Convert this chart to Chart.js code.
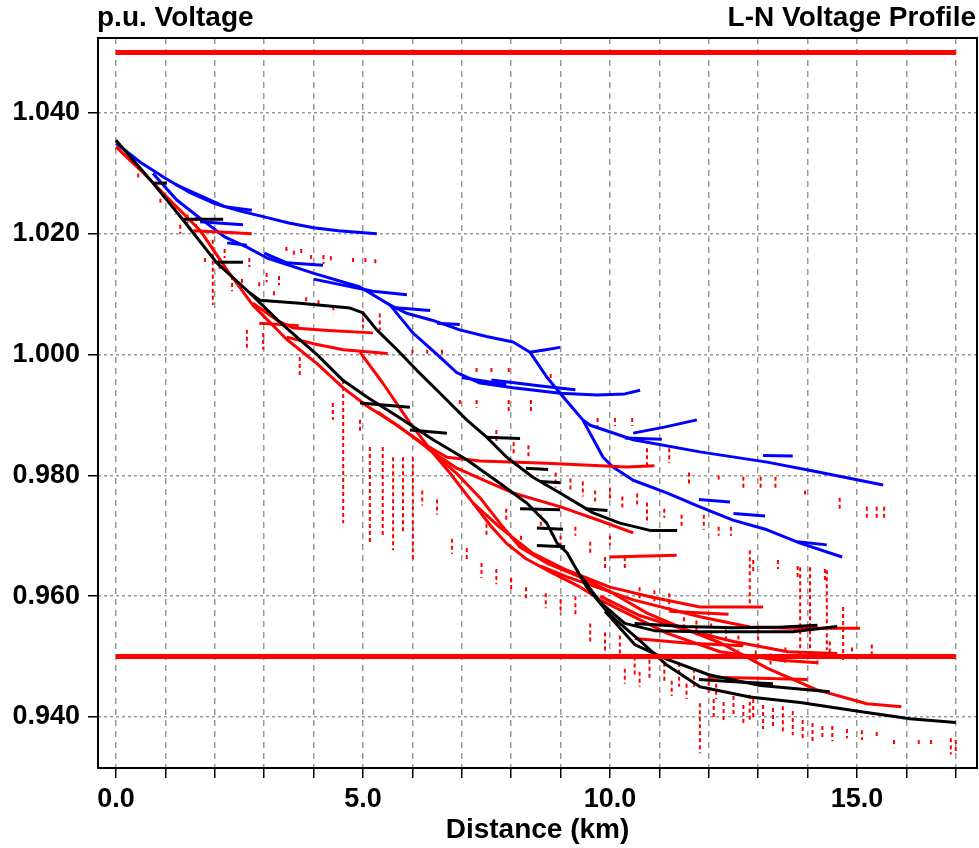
<!DOCTYPE html>
<html>
<head>
<meta charset="utf-8">
<script src="https://cdn.jsdelivr.net/npm/chart.js@4.4.0/dist/chart.umd.min.js"></script>
<style>
  html, body { margin: 0; padding: 0; background: #fff; }
  #wrap { width: 979px; height: 848px; }
</style>
</head>
<body>
<div id="wrap"><canvas id="grafico" width="979" height="848"></canvas></div>
<script>
// texts
const titleLeft = "p.u. Voltage";
const titleRight = "L-N Voltage Profile";
const xTitle = "Distance (km)";

// axis ticks
const xTicks = [0, 1, 2, 3, 4, 5, 6, 7, 8, 9, 10, 11, 12, 13, 14, 15, 16, 17];
const yTicks = [0.94, 0.96, 0.98, 1.0, 1.02, 1.04];

// limit lines [km, p.u.]
const limitHigh = [[0, 1.05], [17, 1.05]];
const limitLow = [[0, 0.95], [17, 0.95]];

// blue phase [km, p.u.]
const blueTop = [[0, 1.035], [0.5, 1.0318], [1.0, 1.0292], [1.5, 1.0268], [2.0, 1.025], [2.5, 1.0238], [3.0, 1.0228], [3.5, 1.0218], [4.0, 1.021], [4.5, 1.0205], [5.28, 1.02]];
const blueMid = [[0.75, 1.03], [1.23, 1.0256], [1.7, 1.0226], [2.2, 1.0195], [2.65, 1.0178], [3.06, 1.016], [3.99, 1.0135], [4.94, 1.0112], [5.55, 1.0082], [6.01, 1.0036], [6.56, 0.9996], [6.9, 0.997], [7.37, 0.9953], [8.04, 0.9945], [8.99, 0.9936], [9.74, 0.9933], [10.3, 0.9935], [10.61, 0.9941]];
const blueSteep = [[5.55, 1.0082], [5.9, 1.0068], [6.4, 1.0057], [6.96, 1.0041], [7.5, 1.003], [8.04, 1.0021], [8.38, 1.0004], [8.72, 0.9963], [8.99, 0.9936], [9.45, 0.9892], [9.86, 0.983], [10.06, 0.9814], [10.47, 0.9792], [11.15, 0.9771], [11.82, 0.9748], [12.49, 0.9726], [13.18, 0.971], [13.85, 0.9688], [14.7, 0.9665]];
const blueRight = [[9.45, 0.9892], [9.6, 0.9883], [10.47, 0.9859], [11.82, 0.9839], [13.18, 0.9822], [14.19, 0.9806], [15.53, 0.9784]];
const blueStubs = [
  [[8.38, 1.0004], [8.7, 1.0008], [8.99, 1.0012]],
  [[10.47, 0.987], [11.1, 0.988], [11.76, 0.9892]],
  [[10.3, 0.9862], [11.05, 0.986]],
  [[13.1, 0.9833], [13.7, 0.9832]],
  [[11.8, 0.976], [12.43, 0.9756]],
  [[12.5, 0.9737], [13.14, 0.9733]],
  [[13.8, 0.969], [14.39, 0.9685]],
  [[1.2, 1.0282], [2.2, 1.0245], [2.75, 1.0239]],
  [[1.7, 1.022], [2.57, 1.0215]],
  [[2.25, 1.0185], [2.65, 1.0181]],
  [[3.0, 1.0168], [3.46, 1.0152], [4.19, 1.0148]],
  [[4.0, 1.0125], [5.2, 1.0105], [5.89, 1.0099]],
  [[5.6, 1.0078], [6.36, 1.0073]],
  [[6.5, 1.0052], [6.96, 1.005]],
  [[7.0, 0.9962], [7.9, 0.995]],
  [[7.6, 0.9958], [8.6, 0.9948], [9.3, 0.9942]]
];

// black phase [km, p.u.]
const blackMain = [[0, 1.0355], [0.75, 1.0284], [1.36, 1.0223], [2.04, 1.0152], [2.71, 1.0102], [3.3, 1.0055], [3.72, 1.0025], [4.07, 1.0], [4.6, 0.9957], [5.08, 0.993], [5.75, 0.9895], [6.42, 0.9859], [7.1, 0.9826], [7.77, 0.9787], [8.32, 0.9754], [8.72, 0.9721], [8.93, 0.9688], [9.13, 0.9672], [9.53, 0.9615], [10.0, 0.9569], [10.6, 0.9527], [11.15, 0.9486], [11.82, 0.945], [12.83, 0.9433], [13.85, 0.9424], [15.06, 0.9409], [16.07, 0.9397], [17.0, 0.9391]];
const blackShelf = [[2.71, 1.0102], [2.91, 1.009], [3.72, 1.0085], [4.74, 1.0077], [5.0, 1.0069], [5.28, 1.0041], [5.69, 1.0008], [6.09, 0.9974], [6.56, 0.9936], [7.1, 0.9892], [7.51, 0.9863], [7.91, 0.983], [8.44, 0.9797], [8.99, 0.9771], [9.66, 0.9738], [10.2, 0.9721], [10.81, 0.9709], [11.36, 0.9709]];
const blackLowA = [[9.4, 0.9635], [9.8, 0.959], [10.3, 0.9555], [10.9, 0.9543], [11.8, 0.9541], [12.7, 0.9541], [13.7, 0.9541], [14.6, 0.955]];
const blackLowB = [[9.9, 0.9575], [10.5, 0.952], [11.15, 0.9496], [12.0, 0.947], [13.05, 0.9452], [14.45, 0.9442]];
const blackStubs = [
  [[0.75, 1.0284], [1.03, 1.0284]],
  [[1.36, 1.0224], [2.17, 1.0224]],
  [[2.04, 1.0153], [2.57, 1.0153]],
  [[4.94, 0.992], [5.95, 0.9913]],
  [[5.95, 0.9875], [6.7, 0.987]],
  [[7.5, 0.9863], [8.18, 0.9861]],
  [[8.3, 0.9812], [8.75, 0.981]],
  [[8.6, 0.979], [9.0, 0.9788]],
  [[9.5, 0.9745], [9.95, 0.9742]],
  [[8.18, 0.9745], [8.99, 0.9743]],
  [[8.52, 0.9713], [9.05, 0.9711]],
  [[8.52, 0.9684], [9.09, 0.9682]],
  [[10.5, 0.9555], [11.5, 0.955], [12.5, 0.9548], [13.5, 0.9549], [14.2, 0.9552]],
  [[11.8, 0.9462], [12.6, 0.9458], [13.3, 0.9455]]
];

// red phase [km, p.u.]
const redMain = [[0, 1.0344], [0.49, 1.0306], [1.03, 1.0261], [1.7, 1.0206], [2.25, 1.014], [2.77, 1.0082], [3.46, 1.0025], [4.07, 0.9985], [4.6, 0.9945], [5.08, 0.9915], [5.75, 0.988], [6.36, 0.9842], [6.9, 0.9803], [7.4, 0.976], [7.8, 0.9718], [8.18, 0.9681], [8.72, 0.9655], [9.39, 0.9632], [10.06, 0.9605], [10.75, 0.9572], [11.42, 0.9549], [12.23, 0.9523], [13.18, 0.9481], [14.19, 0.9445], [15.2, 0.9422], [15.9, 0.9417]];
const redShelfA = [[2.77, 1.0085], [3.3, 1.0055], [3.6, 1.0044], [4.3, 1.004], [5.2, 1.0036]];
const redShelfB = [[3.46, 1.0029], [4.0, 1.0018], [4.6, 1.0008], [5.5, 1.0002]];
const redSteep = [[4.94, 1.0004], [5.4, 0.9953], [5.95, 0.9887], [6.42, 0.9837], [6.76, 0.9804], [7.23, 0.9754], [7.6, 0.9715], [7.9, 0.9688], [8.3, 0.9662], [8.8, 0.964], [9.4, 0.9615]];
const redFlat = [[5.3, 0.9905], [6.21, 0.9853], [6.7, 0.983], [7.37, 0.9824], [8.72, 0.982], [10.34, 0.9814], [10.9, 0.9816]];
const redR5 = [[6.3, 0.9845], [6.9, 0.9812], [7.5, 0.979], [8.04, 0.9771], [9.0, 0.9748], [9.8, 0.9725], [10.47, 0.9705]];
const redR6 = [[7.23, 0.9754], [7.77, 0.9714], [8.44, 0.9671], [9.13, 0.9643], [10.0, 0.9615], [10.81, 0.9599], [11.82, 0.9582], [13.1, 0.9582]];
const redR7 = [[8.6, 0.965], [9.13, 0.9632], [10.47, 0.9594], [11.82, 0.9566], [12.83, 0.9549], [13.7, 0.9547], [15.06, 0.9547]];
const redR8 = [[9.4, 0.9615], [9.8, 0.9594], [11.15, 0.9539], [12.23, 0.9508], [13.44, 0.9494], [14.2, 0.949]];
const redR9 = [[9.8, 0.96], [10.6, 0.9568], [11.5, 0.9545], [12.5, 0.9525], [13.6, 0.9508], [14.6, 0.9505]];
const redStubs = [
  [[1.55, 1.0205], [2.3, 1.0202], [2.75, 1.02]],
  [[2.9, 1.0052], [3.7, 1.0048]],
  [[10.5, 0.953], [11.6, 0.9522], [12.7, 0.9518]],
  [[12.0, 0.9466], [13.0, 0.9464], [14.0, 0.9462]],
  [[10.0, 0.9665], [11.35, 0.9668]],
  [[11.2, 0.9575], [12.4, 0.957]]
];

// red short dashed marks [km, p.u. top, p.u. bottom]
const redDashes = [
  [0.45, 1.03, 1.0292], [0.9, 1.0258, 1.025], [1.2, 1.0245, 1.0232], [1.45, 1.0232, 1.0218], [1.62, 1.0228, 1.021],
  [1.96, 1.019, 1.0082], [1.8, 1.016, 1.0148], [2.1, 1.016, 1.014], [2.35, 1.013, 1.0105], [2.55, 1.0125, 1.011],
  [2.65, 1.0041, 1.0008], [2.9, 1.012, 1.0108], [2.98, 1.0036, 1.0008], [3.2, 1.0105, 1.0095], [3.45, 1.0178, 1.0168],
  [3.6, 1.0172, 1.016], [3.75, 1.0175, 1.0165], [3.72, 0.9996, 0.9963], [3.85, 1.0095, 1.0082], [3.95, 1.0165, 1.0155],
  [4.1, 1.009, 1.008], [4.2, 1.0165, 1.015], [4.35, 1.0163, 1.0152], [4.39, 0.992, 0.9892], [4.4, 1.008, 1.0068],
  [4.6, 0.9958, 0.9721], [4.8, 1.016, 1.015], [4.94, 0.9892, 0.987], [5.0, 1.0072, 1.0045], [5.05, 1.016, 1.0148],
  [5.14, 0.9847, 0.9688], [5.25, 1.0158, 1.015], [5.34, 1.0068, 1.004], [5.4, 0.9847, 0.9698], [5.61, 0.983, 0.9676],
  [5.81, 0.983, 0.9705], [6.01, 0.983, 0.966],
  [6.0, 1.0008, 0.9998], [6.3, 1.0008, 0.9998], [6.6, 1.0008, 0.9998], [6.96, 0.9925, 0.9915], [7.3, 0.9978, 0.997],
  [7.3, 0.9925, 0.9912], [7.6, 0.9978, 0.997], [7.95, 0.9978, 0.997], [7.95, 0.9925, 0.9905], [8.4, 0.9925, 0.9905],
  [8.8, 0.9968, 0.9958], [9.75, 0.9895, 0.9882], [10.1, 0.9895, 0.9882], [10.45, 0.9895, 0.9882], [10.75, 0.9845, 0.9815],
  [11.2, 0.9845, 0.982], [11.6, 0.9805, 0.9785], [12.2, 0.98, 0.979], [12.7, 0.9798, 0.9777], [13.05, 0.9798, 0.9777],
  [13.35, 0.9798, 0.9777], [13.95, 0.9775, 0.9765], [14.65, 0.9763, 0.974], [15.2, 0.9748, 0.9728], [15.4, 0.9748, 0.9728],
  [15.55, 0.9748, 0.9728],
  [10.75, 0.9755, 0.972], [11.1, 0.9745, 0.973], [11.45, 0.9735, 0.9715], [11.9, 0.9735, 0.971], [12.2, 0.9715, 0.97],
  [12.45, 0.9715, 0.97], [12.9, 0.966, 0.964], [13.4, 0.966, 0.9645], [13.8, 0.965, 0.963], [14.35, 0.9645, 0.9625],
  [7.5, 0.972, 0.97], [7.9, 0.9745, 0.9725], [8.2, 0.97, 0.968], [8.6, 0.9735, 0.9715], [9.0, 0.97, 0.968],
  [9.3, 0.9715, 0.97], [9.6, 0.969, 0.967], [10.0, 0.97, 0.9685], [10.3, 0.9665, 0.9645], [9.9, 0.9665, 0.9645],
  [12.83, 0.9676, 0.9588], [13.85, 0.9648, 0.95], [14.05, 0.9648, 0.95], [14.39, 0.9643, 0.9511], [14.72, 0.9582, 0.949],
  [11.82, 0.9423, 0.934], [12.83, 0.9437, 0.9395],
  [10.5, 0.95, 0.947], [10.8, 0.9495, 0.9465], [11.1, 0.949, 0.9455], [11.4, 0.949, 0.945], [11.7, 0.948, 0.9445],
  [12.0, 0.947, 0.944], [12.1, 0.943, 0.9395], [12.3, 0.9425, 0.939], [12.5, 0.9435, 0.94], [12.7, 0.942, 0.9385],
  [12.9, 0.943, 0.9395], [13.1, 0.942, 0.938], [13.3, 0.9415, 0.9385], [13.5, 0.9418, 0.9375], [13.7, 0.941, 0.937],
  [13.9, 0.9395, 0.9365], [14.1, 0.939, 0.936], [14.3, 0.9385, 0.9362], [14.5, 0.9385, 0.936], [14.8, 0.938, 0.9365],
  [15.1, 0.9378, 0.9362], [15.4, 0.9375, 0.9365], [15.75, 0.9362, 0.935], [16.25, 0.9362, 0.9352], [16.5, 0.9362, 0.9352],
  [16.9, 0.9365, 0.9338], [17.0, 0.9362, 0.934],
  [9.3, 0.96, 0.957], [9.6, 0.9555, 0.952], [9.9, 0.954, 0.951], [10.2, 0.9535, 0.95], [13.0, 0.9545, 0.952],
  [6.2, 0.9775, 0.975], [6.5, 0.976, 0.9735], [6.8, 0.9695, 0.967], [7.1, 0.968, 0.966], [7.4, 0.9655, 0.963],
  [7.7, 0.9645, 0.962], [8.0, 0.963, 0.961], [8.3, 0.9615, 0.9595], [8.7, 0.9605, 0.958], [9.0, 0.9595, 0.957],
  [9.45, 0.979, 0.9765], [9.7, 0.9775, 0.9755], [10.0, 0.978, 0.976], [10.25, 0.9765, 0.9745], [10.55, 0.977, 0.975],
  [8.9, 0.9805, 0.978], [9.2, 0.9795, 0.9775], [8.05, 0.9855, 0.9835], [8.35, 0.985, 0.983], [7.7, 0.9875, 0.9855],
  [10.6, 0.9615, 0.959], [10.9, 0.961, 0.959], [11.2, 0.9605, 0.958], [11.5, 0.9565, 0.9545], [11.75, 0.956, 0.9535],
  [12.05, 0.9555, 0.953], [12.35, 0.9545, 0.952], [12.6, 0.9535, 0.951], [12.95, 0.951, 0.949], [13.25, 0.9505, 0.9485],
  [13.55, 0.9515, 0.949], [14.2, 0.9505, 0.9485], [14.45, 0.9525, 0.95], [14.9, 0.9515, 0.9495], [15.3, 0.952, 0.95],
  [10.3, 0.948, 0.9455], [10.6, 0.9475, 0.945], [11.55, 0.9455, 0.943], [11.25, 0.946, 0.9435], [12.15, 0.9455, 0.943],
  [2.2, 1.0175, 1.016], [2.7, 1.016, 1.0145], [3.05, 1.0135, 1.012], [3.3, 1.013, 1.0115], [1.3, 1.0215, 1.02]
];

const toPts = (arr) => arr.map((p) => ({ x: p[0], y: p[1] }));

const dashPts = [];
redDashes.forEach((d) => {
  dashPts.push({ x: d[0], y: d[1] });
  dashPts.push({ x: d[0], y: d[2] });
  dashPts.push({ x: d[0], y: null });
});

const lineSet = (arr, color, width) => ({
  data: toPts(arr),
  borderColor: color,
  backgroundColor: color,
  borderWidth: width,
  showLine: true,
  pointRadius: 0,
  tension: 0,
  borderJoinStyle: "round",
});

// first in the list is drawn on top
const datasets = [];
datasets.push(lineSet(limitHigh, "#ff0000", 5));
datasets.push(lineSet(limitLow, "#ff0000", 5));
datasets.push(lineSet(blackMain, "#000000", 3));
datasets.push(lineSet(blackShelf, "#000000", 3));
datasets.push(lineSet(blackLowA, "#000000", 3));
datasets.push(lineSet(blackLowB, "#000000", 3));
blackStubs.forEach((s) => datasets.push(lineSet(s, "#000000", 3)));
const redDashSet = lineSet([], "#ff0000", 2);
redDashSet.data = dashPts;
redDashSet.borderDash = [4, 3];
redDashSet.spanGaps = false;
datasets.push(redDashSet);
[redMain, redShelfA, redShelfB, redSteep, redFlat, redR5, redR6, redR7, redR8, redR9].forEach((s) =>
  datasets.push(lineSet(s, "#ff0000", 3))
);
redStubs.forEach((s) => datasets.push(lineSet(s, "#ff0000", 3)));
[blueTop, blueMid, blueSteep, blueRight].forEach((s) => datasets.push(lineSet(s, "#0000ff", 3)));
blueStubs.forEach((s) => datasets.push(lineSet(s, "#0000ff", 3)));

const fuente = { family: "'Liberation Sans', Arial, sans-serif", size: 27, weight: "bold" };

// frame box and the two top texts
const marco = {
  id: "marco",
  afterDraw(chart) {
    const { ctx, chartArea: a } = chart;
    ctx.save();
    ctx.setLineDash([]);
    ctx.strokeStyle = "#000";
    ctx.lineWidth = 2;
    ctx.strokeRect(a.left, a.top, a.right - a.left, a.bottom - a.top);
    ctx.font = "bold 28px 'Liberation Sans', Arial, sans-serif";
    ctx.fillStyle = "#000";
    ctx.textBaseline = "middle";
    ctx.textAlign = "left";
    ctx.fillText(titleLeft, 97, 18);
    ctx.textAlign = "right";
    ctx.fillText(titleRight, 976, 18);
    ctx.restore();
  },
};

const config = {
  type: "scatter",
  data: { datasets: datasets },
  options: {
    responsive: false,
    animation: false,
    layout: { padding: { top: 38, right: 2, left: 0, bottom: 0 } },
    plugins: { legend: { display: false }, tooltip: { enabled: false } },
    scales: {
      x: {
        type: "linear",
        min: -0.364,
        max: 17.43,
        afterBuildTicks: (axis) => {
          axis.ticks = xTicks.map((v) => ({ value: v }));
        },
        afterFit: (axis) => {
          axis.height = 80;
        },
        ticks: {
          autoSkip: false,
          maxRotation: 0,
          padding: 5,
          color: "#000",
          font: fuente,
          callback: (v) => (v % 5 === 0 ? v.toFixed(1) : ""),
        },
        grid: {
          color: "#999999",
          lineWidth: 1.5,
          drawTicks: true,
          tickLength: 10,
          tickColor: "#000",
          tickWidth: 1.5,
          tickBorderDash: [],
        },
        border: { display: false, dash: [6, 5] },
        title: {
          display: true,
          text: xTitle,
          color: "#000",
          font: { family: "'Liberation Sans', Arial, sans-serif", size: 28, weight: "bold" },
          padding: { top: 0, bottom: 1 },
        },
      },
      y: {
        type: "linear",
        min: 0.93156,
        max: 1.05242,
        afterBuildTicks: (axis) => {
          axis.ticks = yTicks.map((v) => ({ value: v }));
        },
        afterFit: (axis) => {
          axis.width = 98;
        },
        ticks: {
          autoSkip: false,
          padding: 8,
          color: "#000",
          font: fuente,
          callback: (v) => v.toFixed(3),
        },
        grid: {
          color: "#999999",
          lineWidth: 1.5,
          drawTicks: true,
          tickLength: 10,
          tickColor: "#000",
          tickWidth: 1.5,
          tickBorderDash: [],
        },
        border: { display: false, dash: [3, 3] },
      },
    },
  },
  plugins: [marco],
};

new Chart(document.getElementById("grafico"), config);
</script>
</body>
</html>
